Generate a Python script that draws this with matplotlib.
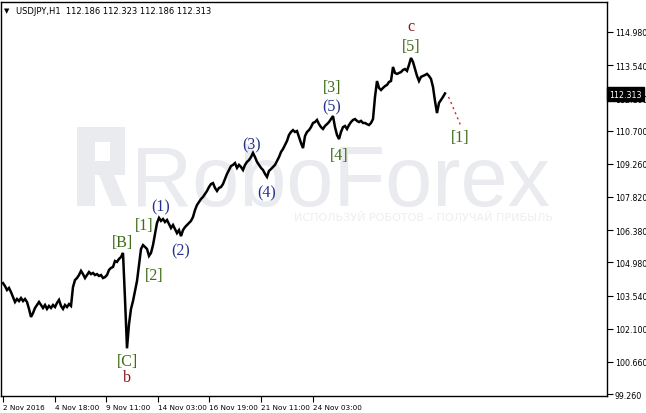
import matplotlib
matplotlib.use('Agg')
import matplotlib.pyplot as plt
import numpy as np
from matplotlib.patches import Polygon

# ---------------- data ----------------
# hourly USDJPY close, sampled every 2.5 bars
close = [
    104.08, 103.95, 103.78, 103.87, 103.69, 103.48, 103.26, 103.39, 103.30, 103.43,
    103.30, 103.39, 103.26, 102.96, 102.61, 102.78, 103.00, 103.13, 103.26, 103.13,
    103.00, 103.13, 102.96, 103.09, 103.00, 103.13, 103.04, 103.22, 103.35, 103.09,
    102.96, 103.13, 103.04, 103.17, 103.09,
    103.91, 104.21, 104.30, 104.43, 104.61, 104.47, 104.30, 104.43, 104.56, 104.47,
    104.52, 104.43, 104.47, 104.39, 104.43, 104.30, 104.34, 104.43, 104.65, 104.74,
    104.78, 105.04, 105.00, 105.13, 105.21, 105.39,
    103.39, 101.25, 102.30, 102.96, 103.30, 103.74, 104.17, 104.87, 105.56, 105.73,
    105.65, 105.56, 105.26, 105.39, 105.73, 106.21, 106.69, 106.91, 106.78, 106.86,
    106.73, 106.82, 106.65, 106.47, 106.60, 106.43, 106.25, 106.38, 106.12, 106.38,
    106.51, 106.60, 106.69, 106.78, 106.95, 107.25, 107.47, 107.60, 107.73, 107.82,
    107.95, 108.08, 108.25, 108.38, 108.42, 108.21, 108.08, 108.21, 108.25, 108.38,
    108.60, 108.82, 108.99, 109.16, 109.21, 109.29, 109.08, 109.21, 109.12, 108.99,
    109.21, 109.34, 109.42, 109.55, 109.73, 109.55, 109.34, 109.21, 109.08, 108.99,
    108.82, 108.69, 108.95, 109.03, 109.12, 109.21, 109.38, 109.55, 109.77, 109.90,
    110.07, 110.25, 110.51, 110.64, 110.72, 110.64, 110.68, 110.42, 110.16, 109.94,
    110.46, 110.64, 110.72, 110.85, 111.03, 111.07, 111.16, 110.98, 110.85, 110.77,
    110.90, 110.98, 111.07, 111.20, 111.33, 110.85, 110.51, 110.33, 110.64, 110.85,
    110.90, 110.77, 110.94, 111.07, 111.16, 111.20, 111.12, 111.07, 111.12, 111.03,
    111.03, 110.98, 110.94, 111.03, 111.20,
    112.16, 112.85, 112.55, 112.46, 112.55, 112.63, 112.68, 112.81, 112.85, 113.46,
    113.20, 113.16, 113.20, 113.24, 113.33, 113.37, 113.29, 113.55, 113.85, 113.68,
    113.37, 113.07, 112.85, 113.03, 113.07, 113.11, 113.16, 113.07, 112.94, 112.59,
    111.98, 111.46, 111.90, 112.03, 112.16, 112.31,
]
bar_step = 2.5

tick_bars = [0, 65, 129, 194, 258, 322, 388]
tick_labels = ['2 Nov 2016', '4 Nov 18:00', '9 Nov 11:00', '14 Nov 03:00',
               '16 Nov 19:00', '21 Nov 11:00', '24 Nov 03:00']
price_ticks = [114.98, 113.54, 112.10, 110.70, 109.26, 107.82, 106.38,
               104.98, 103.54, 102.10, 100.66, 99.26]

forecast_bars = [557, 573]
forecast_prices = [112.16, 110.85]

header = 'USDJPY,H1  112.186 112.323 112.186 112.313'
last_price = 112.313

# wave labels: text, bar, price, kind
wave_text = ['[B]', '[C]', 'b', '[1]', '[2]', '(1)', '(2)', '(3)', '(4)',
             '(5)', '[3]', '[4]', '[5]', 'c', '[1]']
wave_bar = [149, 155, 155, 177, 189, 197, 222, 311, 330, 411, 411, 420, 510, 510, 571]
wave_price = [105.86, 100.70, 100.00, 106.60, 104.43, 107.43, 105.52, 110.12, 108.03,
              111.77, 112.59, 109.64, 114.37, 115.24, 110.42]
wave_kind = ['sq', 'sq', 'lo', 'sq', 'sq', 'pa', 'pa', 'pa', 'pa',
             'pa', 'sq', 'sq', 'sq', 'lo', 'sq']

# ---------------- figure ----------------
W, H = 646, 414
fig = plt.figure(figsize=(W / 100, H / 100), dpi=100)
ax = fig.add_axes([1 / W, 17 / H, 606 / W, 394 / H])
ax.set_xlim(-2.5, 755)
ax.set_ylim(99.18, 116.28)

# watermark
wm = '#e9ebef'
def px(x, y):
    return (x / W, 1 - y / H)
logo_parts = [
    [(77, 128), (95, 128), (95, 207), (77, 207)],
    [(77, 128), (125, 128), (125, 143), (77, 143)],
    [(110, 128), (125, 128), (125, 176), (110, 176)],
    [(95, 162), (125, 162), (125, 176), (95, 176)],
    [(99, 176), (114, 176), (127, 207), (112, 207)],
]
for part in logo_parts:
    fig.patches.append(Polygon([px(a, b) for a, b in part], closed=True,
                               transform=fig.transFigure, facecolor=wm,
                               edgecolor='none', zorder=0))
fig.text(131 / W, 1 - 206 / H, 'RoboForex', fontsize=61, color=wm,
         family='Liberation Sans', ha='left', va='baseline', zorder=0.5)
fig.text(553 / W, 1 - 218 / H, 'ИСПОЛЬЗУЙ РОБОТОВ – ПОЛУЧАЙ ПРИБЫЛЬ', fontsize=8,
         color='#eceef1', family='DejaVu Sans', ha='right', va='center', zorder=0.5)
ax.set_facecolor('none')
ax.set_zorder(2)

# price line
bars = np.arange(len(close)) * bar_step
ax.plot(bars, close, color='black', lw=1.8, solid_joinstyle='miter')

# forecast
ax.plot(forecast_bars, forecast_prices, color='#e0203a', lw=1.0, ls=(0, (1.5, 2.5)))

# wave labels
colors = {'sq': '#3d6e17', 'pa': '#24308c', 'lo': '#8b1414'}
for t, b, p, k in zip(wave_text, wave_bar, wave_price, wave_kind):
    ax.text(b, p, t, color=colors[k], fontsize=11.5, family='Liberation Serif',
            ha='center', va='center')

# axes styling
for s in ax.spines.values():
    s.set_color('black')
    s.set_linewidth(1.0)
ax.yaxis.tick_right()
ax.set_yticks(price_ticks)
ax.set_yticklabels(['%.3f' % v for v in price_ticks])
ax.set_xticks(tick_bars)
ax.set_xticklabels(tick_labels)
for lbl in ax.get_xticklabels():
    lbl.set_ha('left')
ax.tick_params(axis='y', direction='out', length=4, width=0.8, labelsize=5.7,
               pad=1.5, colors='black')
ax.tick_params(axis='x', direction='out', length=4, width=0.8, labelsize=5.2,
               pad=2, colors='black')

# current price box
fig.text(609 / W, 1 - 95 / H, '%.3f' % last_price, fontsize=5.7, color='white',
         ha='left', va='center', family='DejaVu Sans',
         bbox=dict(boxstyle='square,pad=0.3', facecolor='black', edgecolor='black'))

# header
fig.text(4 / W, 1 - 11 / H, '▼', fontsize=5, color='black', ha='left', va='center')
fig.text(16 / W, 1 - 11 / H, header, fontsize=6, color='black', ha='left',
         va='center', family='DejaVu Sans')

fig.savefig('out.png', dpi=100)
